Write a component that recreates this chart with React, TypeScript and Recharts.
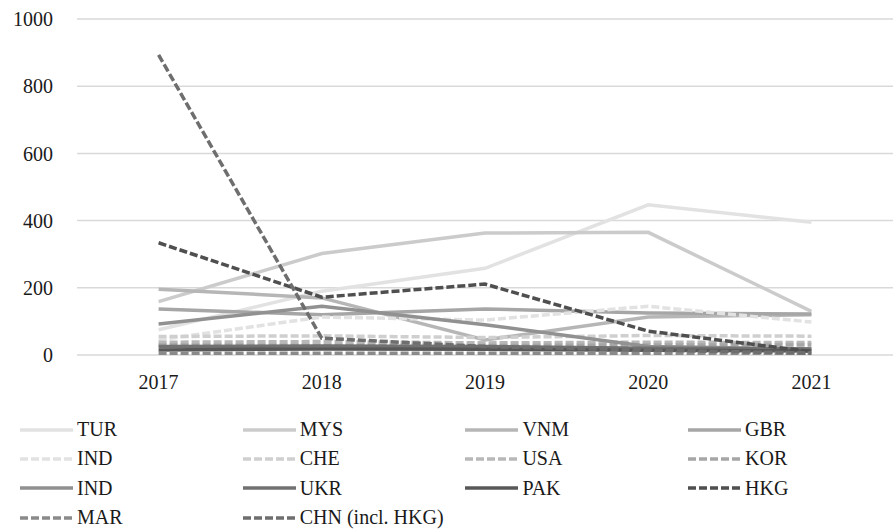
import React from "react"
import { LineChart, Line, XAxis, YAxis, CartesianGrid } from "recharts"

// years on the category axis
const years = ["2017", "2018", "2019", "2020", "2021"]
const yTicks = [0, 200, 400, 600, 800, 1000]

// values per country
const tur = [75, 190, 258, 447, 395]
const mys = [159, 302, 363, 365, 130]
const vnm = [196, 170, 45, 113, 120]
const gbr = [137, 120, 137, 125, 122]
const indDashed = [45, 113, 104, 145, 98]
const che = [55, 57, 52, 58, 56]
const usa = [38, 40, 36, 38, 37]
const kor = [30, 30, 28, 30, 30]
const indSolid = [92, 145, 90, 25, 18]
const ukr = [25, 27, 25, 20, 18]
const pak = [15, 18, 17, 14, 12]
const hkg = [334, 172, 211, 71, 10]
const mar = [5, 5, 5, 5, 5]
const chn = [893, 50, 25, 15, 5]

const series = [
  { key: "TUR", name: "TUR", values: tur, color: "#e2e2e2", dashed: false },
  { key: "MYS", name: "MYS", values: mys, color: "#cbcbcb", dashed: false },
  { key: "VNM", name: "VNM", values: vnm, color: "#b6b6b6", dashed: false },
  { key: "GBR", name: "GBR", values: gbr, color: "#a6a6a6", dashed: false },
  { key: "IND_D", name: "IND", values: indDashed, color: "#e2e2e2", dashed: true },
  { key: "CHE", name: "CHE", values: che, color: "#cfcfcf", dashed: true },
  { key: "USA", name: "USA", values: usa, color: "#b8b8b8", dashed: true },
  { key: "KOR", name: "KOR", values: kor, color: "#a6a6a6", dashed: true },
  { key: "IND_S", name: "IND", values: indSolid, color: "#919191", dashed: false },
  { key: "UKR", name: "UKR", values: ukr, color: "#717171", dashed: false },
  { key: "PAK", name: "PAK", values: pak, color: "#585858", dashed: false },
  { key: "HKG", name: "HKG", values: hkg, color: "#4f4f4f", dashed: true },
  { key: "MAR", name: "MAR", values: mar, color: "#8a8a8a", dashed: true },
  { key: "CHN", name: "CHN (incl. HKG)", values: chn, color: "#6e6e6e", dashed: true },
]

const data = years.map((year, i) => {
  const row: Record<string, string | number> = { year }
  series.forEach((s) => {
    row[s.key] = s.values[i]
  })
  return row
})

const font = "Liberation Serif, Times New Roman, Tinos, DejaVu Serif, Noto Serif, serif"
const dash = "8 3"

const LegendGrid = () => (
  <div
    style={{
      position: "absolute",
      left: 20,
      top: 415,
      display: "grid",
      gridTemplateColumns: "repeat(4, 222.7px)",
      gridAutoRows: "29.3px",
      fontFamily: font,
      fontSize: 20,
      color: "#1a1a1a",
    }}
  >
    {series.map((s) => (
      <div key={s.key} style={{ display: "flex", alignItems: "center" }}>
        <svg width={57} height={10} style={{ flexShrink: 0 }}>
          <line
            x1={0}
            y1={5}
            x2={53}
            y2={5}
            stroke={s.color}
            strokeWidth={3.5}
            strokeDasharray={s.dashed ? dash : undefined}
          />
        </svg>
        <span style={{ lineHeight: "29px" }}>{s.name}</span>
      </div>
    ))}
  </div>
)

export default function App() {
  return (
    <div style={{ position: "absolute", left: 0, top: 0, width: 893, height: 530, background: "#fff" }}>
      <LineChart width={893} height={400} data={data} margin={{ top: 19, right: 0, left: 0, bottom: 0 }}>
        <CartesianGrid horizontal vertical={false} stroke="#d9d9d9" strokeWidth={1.5} />
        <XAxis
          dataKey="year"
          height={45}
          axisLine={false}
          tickLine={false}
          tickSize={0}
          tickMargin={20}
          padding={{ left: 81.6, right: 81.6 }}
          tick={{ fill: "#1a1a1a", fontSize: 20, fontFamily: font }}
        />
        <YAxis
          width={77}
          domain={[0, 1000]}
          ticks={yTicks}
          interval={0}
          axisLine={false}
          tickLine={false}
          tickSize={0}
          tickMargin={24}
          tick={{ fill: "#1a1a1a", fontSize: 20, fontFamily: font }}
        />
        {series.map((s) => (
          <Line
            key={s.key}
            dataKey={s.key}
            name={s.name}
            stroke={s.color}
            strokeWidth={3.5}
            strokeDasharray={s.dashed ? dash : undefined}
            dot={false}
            activeDot={false}
            isAnimationActive={false}
          />
        ))}
      </LineChart>
      <LegendGrid />
    </div>
  )
}
